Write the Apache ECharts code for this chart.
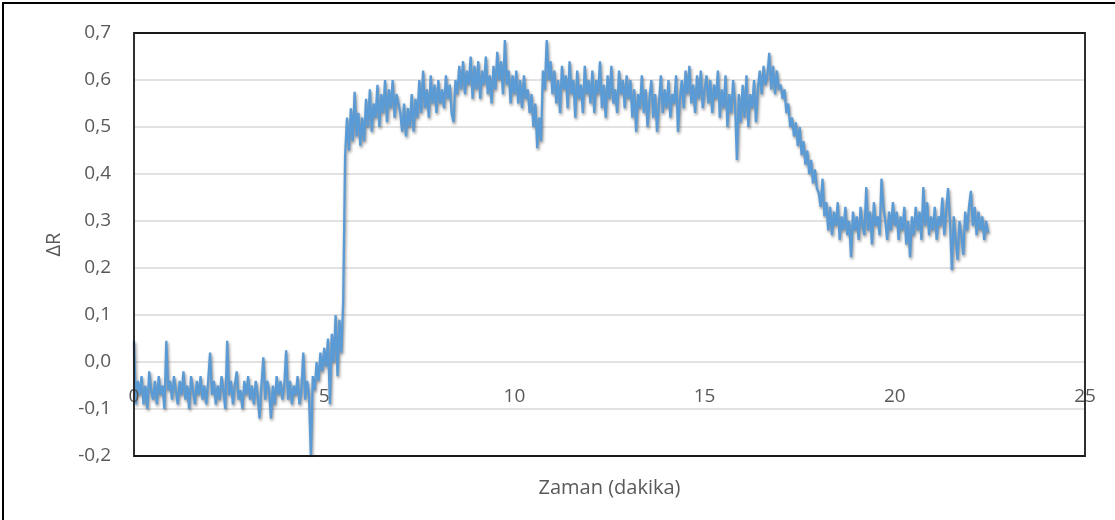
<!DOCTYPE html>
<html>
<head>
<meta charset="utf-8">
<script src="https://cdn.jsdelivr.net/npm/echarts@6/dist/echarts.min.js"></script>
<style>
html,body{margin:0;padding:0;background:#fff;}
#chart{width:1115px;height:520px;}
</style>
</head>
<body>
<div id="chart"></div>
<script>
// Sampling: one reading every 0.05 minutes starting at 0
const sampleStartMin = 0;
const sampleStepMin = 0.05;

// ΔR readings, one row per minute (20 samples each)
const deltaR = [
  // 0 - 0.95
  0.045, -0.09, -0.04, -0.07, -0.03, -0.09, -0.05, -0.10, -0.02, -0.06, -0.08, -0.04, -0.09, -0.03, -0.07, -0.05, -0.10, 0.045, -0.06, -0.04,
  // 1
  -0.08, -0.03, -0.06, -0.09, -0.04, -0.07, -0.02, -0.08, -0.05, -0.10, -0.03, -0.06, -0.09, -0.04, -0.07, -0.03, -0.08, -0.05, -0.09, -0.04,
  // 2
  0.02, -0.07, -0.04, -0.09, -0.05, -0.08, -0.03, -0.06, -0.10, 0.045, -0.07, -0.04, -0.09, -0.05, -0.02, -0.08, -0.06, -0.10, -0.04, -0.07,
  // 3
  -0.03, -0.08, -0.05, -0.09, -0.04, -0.07, -0.12, -0.05, 0.01, -0.08, -0.04, -0.06, -0.12, -0.05, -0.09, -0.03, -0.07, -0.04, -0.08, -0.05,
  // 4
  0.025, -0.08, -0.04, -0.09, -0.05, -0.07, -0.03, -0.09, -0.06, 0.02, -0.08, -0.04, -0.07, -0.20, -0.03, -0.06, 0.0, -0.04, 0.02, -0.02,
  // 5
  0.03, -0.01, 0.05, -0.09, 0.06, 0.0, 0.10, -0.03, 0.09, 0.02, 0.13, 0.44, 0.52, 0.45, 0.54, 0.47, 0.575, 0.48, 0.53, 0.46,
  // 6
  0.52, 0.47, 0.56, 0.50, 0.58, 0.49, 0.55, 0.52, 0.59, 0.50, 0.57, 0.53, 0.60, 0.51, 0.58, 0.54, 0.60, 0.52, 0.57, 0.55,
  // 7
  0.53, 0.49, 0.55, 0.48, 0.54, 0.50, 0.57, 0.49, 0.56, 0.52, 0.60, 0.53, 0.62, 0.54, 0.58, 0.52, 0.61, 0.55, 0.59, 0.53,
  // 8
  0.60, 0.55, 0.58, 0.54, 0.61, 0.56, 0.59, 0.53, 0.51, 0.60, 0.57, 0.63, 0.58, 0.64, 0.57, 0.62, 0.59, 0.65, 0.56, 0.63,
  // 9
  0.58, 0.64, 0.56, 0.62, 0.59, 0.65, 0.57, 0.61, 0.55, 0.63, 0.58, 0.66, 0.60, 0.64, 0.57, 0.685, 0.59, 0.62, 0.55, 0.61,
  // 10
  0.57, 0.62, 0.55, 0.60, 0.54, 0.61, 0.56, 0.58, 0.53, 0.57, 0.50, 0.55, 0.455, 0.52, 0.47, 0.62, 0.58, 0.685, 0.60, 0.64,
  // 11
  0.57, 0.62, 0.55, 0.60, 0.53, 0.63, 0.58, 0.61, 0.54, 0.64, 0.57, 0.60, 0.52, 0.62, 0.56, 0.59, 0.53, 0.63, 0.57, 0.60,
  // 12
  0.55, 0.62, 0.53, 0.60, 0.57, 0.64, 0.54, 0.59, 0.52, 0.61, 0.56, 0.63, 0.55, 0.58, 0.53, 0.62, 0.57, 0.60, 0.54, 0.61,
  // 13
  0.56, 0.60, 0.52, 0.58, 0.49, 0.57, 0.54, 0.61, 0.53, 0.58, 0.50, 0.56, 0.60, 0.52, 0.57, 0.49, 0.55, 0.61, 0.53, 0.58,
  // 14
  0.54, 0.60, 0.52, 0.57, 0.55, 0.61, 0.49, 0.56, 0.60, 0.54, 0.62, 0.57, 0.63, 0.55, 0.59, 0.53, 0.61, 0.56, 0.62, 0.54,
  // 15
  0.58, 0.61, 0.55, 0.60, 0.53, 0.59, 0.56, 0.62, 0.52, 0.58, 0.54, 0.61, 0.50, 0.57, 0.53, 0.60, 0.55, 0.43, 0.57, 0.51,
  // 16
  0.59, 0.52, 0.61, 0.50, 0.57, 0.54, 0.60, 0.51, 0.58, 0.62, 0.57, 0.63, 0.59, 0.61, 0.658, 0.58, 0.63, 0.57, 0.62, 0.58,
  // 17
  0.59, 0.56, 0.58, 0.53, 0.55, 0.50, 0.52, 0.48, 0.51, 0.46, 0.50, 0.44, 0.47, 0.42, 0.45, 0.40, 0.43, 0.38, 0.41, 0.37,
  // 18
  0.36, 0.33, 0.39, 0.31, 0.34, 0.28, 0.33, 0.27, 0.32, 0.29, 0.34, 0.26, 0.31, 0.28, 0.33, 0.27, 0.30, 0.223, 0.32, 0.28,
  // 19
  0.31, 0.26, 0.33, 0.29, 0.27, 0.372, 0.28, 0.32, 0.25, 0.34, 0.29, 0.31, 0.27, 0.39, 0.33, 0.30, 0.26, 0.32, 0.28, 0.34,
  // 20
  0.29, 0.32, 0.26, 0.31, 0.28, 0.33, 0.25, 0.30, 0.223, 0.31, 0.27, 0.33, 0.28, 0.32, 0.26, 0.372, 0.29, 0.34, 0.27, 0.31,
  // 21
  0.28, 0.33, 0.26, 0.31, 0.29, 0.35, 0.27, 0.32, 0.37, 0.30, 0.196, 0.31, 0.26, 0.217, 0.30, 0.27, 0.228, 0.32, 0.28, 0.33,
  // 22
  0.364, 0.29, 0.33, 0.27, 0.32, 0.28, 0.31, 0.26, 0.30, 0.275
];

const xAxisTitle = 'Zaman (dakika)';
const yAxisTitle = 'ΔR';
const xRange = [0, 25, 5];
const yRange = [-0.2, 0.7, 0.1];

const seriesData = deltaR.map((v, i) => [+(sampleStartMin + i * sampleStepMin).toFixed(2), v]);

const FONT = '"Open Sans", "Noto Sans", sans-serif';
const chart = echarts.init(document.getElementById('chart'), null, {renderer: 'canvas'});
chart.setOption({
  animation: false,
  backgroundColor: '#fff',
  graphic: [{
    type: 'rect',
    shape: {x: 3, y: 3, width: 1300, height: 700},
    style: {fill: 'none', stroke: '#000', lineWidth: 2},
    silent: true,
    z: 100
  }, {
    type: 'rect',
    shape: {x: 134, y: 33, width: 951, height: 423},
    style: {fill: 'none', stroke: '#1a1a1a', lineWidth: 1.8},
    silent: true,
    z: 100
  }],
  grid: {
    left: 134, top: 33, right: 30, bottom: 64,
    containLabel: false,
    outerBoundsMode: 'none',
    show: false
  },
  xAxis: {
    type: 'value',
    position: 'bottom',
    min: xRange[0], max: xRange[1], interval: xRange[2],
    name: xAxisTitle,
    nameLocation: 'middle',
    nameGap: 22,
    nameTextStyle: {fontFamily: FONT, fontSize: 20, color: '#595959'},
    axisLine: {show: false, onZero: false},
    axisTick: {show: false},
    splitLine: {show: false},
    axisLabel: {
      inside: true,
      fontFamily: FONT, fontSize: 19, color: '#595959', margin: 50,
      formatter: v => String(v)
    },
    z: 5
  },
  yAxis: {
    type: 'value',
    min: yRange[0], max: yRange[1], interval: yRange[2],
    name: yAxisTitle,
    nameLocation: 'middle',
    nameGap: 70,
    nameRotate: 90,
    nameTextStyle: {fontFamily: FONT, fontSize: 20, color: '#595959'},
    axisLine: {show: false},
    axisTick: {show: false},
    splitLine: {show: true, lineStyle: {color: '#D9D9D9', width: 1.5}},
    axisLabel: {
      fontFamily: FONT, fontSize: 19, color: '#595959', margin: 23,
      formatter: v => v.toFixed(1).replace('.', ',')
    }
  },
  series: [{
    type: 'line',
    data: seriesData,
    showSymbol: false,
    symbol: 'none',
    sampling: null,
    lineStyle: {
      color: '#5B9BD5', width: 2.3,
      shadowColor: 'rgba(0,0,0,0.45)', shadowBlur: 3, shadowOffsetX: 1, shadowOffsetY: 2
    },
    z: 3
  }]
});
</script>
</body>
</html>
